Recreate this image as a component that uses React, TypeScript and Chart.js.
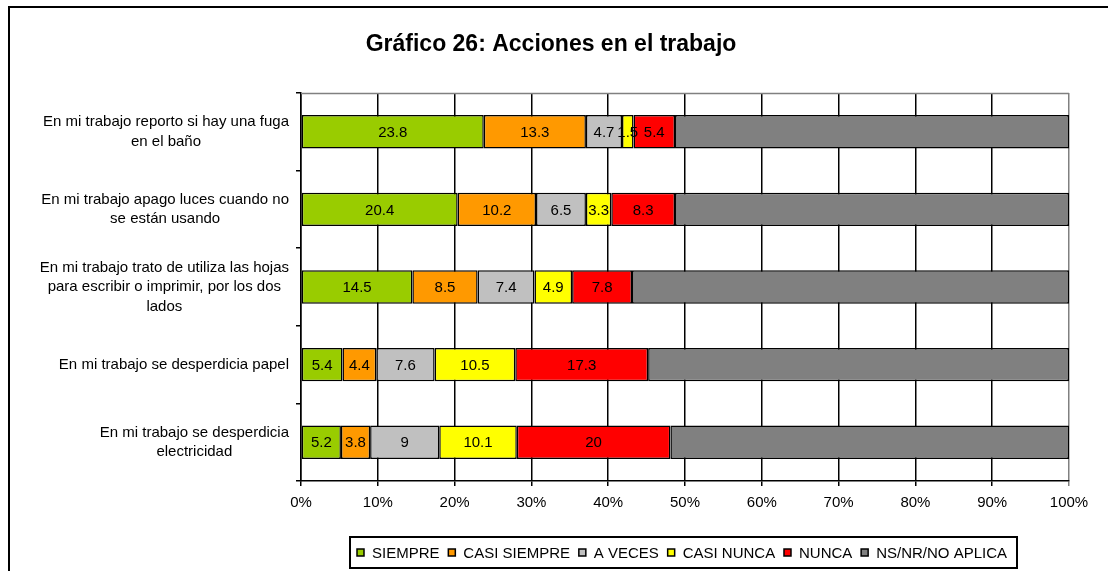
import React, { useEffect, useRef } from "react";
import { Chart, registerables } from "chart.js";

Chart.register(...registerables);

const FONT = "'Liberation Sans', Arial, sans-serif";

const TITLE = "Gráfico 26: Acciones en el trabajo";

const categories: string[][] = [
  ["En mi trabajo reporto si hay una fuga", "en el baño"],
  ["En mi trabajo apago luces cuando no", "se están usando"],
  ["En mi trabajo trato de utiliza las hojas", "para escribir o imprimir, por los dos", "lados"],
  ["En mi trabajo se desperdicia papel"],
  ["En mi trabajo se desperdicia", "electricidad"],
];

const seriesNames = ["SIEMPRE", "CASI SIEMPRE", "A VECES", "CASI NUNCA", "NUNCA", "NS/NR/NO APLICA"];
const seriesColors = ["#99CC00", "#FF9900", "#C0C0C0", "#FFFF00", "#FF0000", "#808080"];

const siempre = [23.8, 20.4, 14.5, 5.4, 5.2];
const casiSiempre = [13.3, 10.2, 8.5, 4.4, 3.8];
const aVeces = [4.7, 6.5, 7.4, 7.6, 9];
const casiNunca = [1.5, 3.3, 4.9, 10.5, 10.1];
const nunca = [5.4, 8.3, 7.8, 17.3, 20];
const nsNr = [51.3, 51.3, 56.9, 54.8, 51.9];

const seriesValues = [siempre, casiSiempre, aVeces, casiNunca, nunca, nsNr];
const labelledSeries = [true, true, true, true, true, false];

const xMin = 0;
const xMax = 100;
const xStep = 10;

const overlay = {
  id: "overlay",
  afterDraw(chart: any) {
    const ctx: CanvasRenderingContext2D = chart.ctx;
    const area = chart.chartArea;
    const yScale = chart.scales.y;
    ctx.save();

    // outer frame (top and left visible)
    ctx.strokeStyle = "#000";
    ctx.lineWidth = 2;
    ctx.beginPath();
    ctx.moveTo(9, 600);
    ctx.lineTo(9, 7);
    ctx.lineTo(1200, 7);
    ctx.stroke();

    // plot area top border (gray)
    ctx.strokeStyle = "#808080";
    ctx.lineWidth = 1.5;
    ctx.beginPath();
    ctx.moveTo(area.left, Math.round(area.top) + 0.5);
    ctx.lineTo(area.right, Math.round(area.top) + 0.5);
    ctx.stroke();

    // title
    ctx.fillStyle = "#000";
    ctx.font = `bold 23px ${FONT}`;
    ctx.textAlign = "center";
    ctx.textBaseline = "middle";
    ctx.fillText(TITLE, 551, 45);

    // category labels
    ctx.font = `15px ${FONT}`;
    const lineH = 19.5;
    categories.forEach((lines, i) => {
      const cy = yScale.getPixelForValue(i);
      let maxW = 0;
      lines.forEach((l) => (maxW = Math.max(maxW, ctx.measureText(l).width)));
      const cx = area.left - 12 - maxW / 2;
      const startY = cy - ((lines.length - 1) * lineH) / 2;
      lines.forEach((l, k) => {
        ctx.fillText(l, cx, startY + k * lineH);
      });
    });

    // data labels
    chart.data.datasets.forEach((ds: any, di: number) => {
      if (!labelledSeries[di]) return;
      const meta = chart.getDatasetMeta(di);
      meta.data.forEach((bar: any, j: number) => {
        const v = ds.data[j];
        const x = (bar.x + bar.base) / 2;
        ctx.fillStyle = "#000";
        ctx.fillText(String(v), x, bar.y + 1);
      });
    });

    // legend
    ctx.font = `15px ${FONT}`;
    ctx.textAlign = "left";
    const boxL = 350;
    const boxR = 1017;
    const boxT = 537;
    const boxB = 568;
    const marker = 7;
    const mGap = 8;
    const textWs = seriesNames.map((n) => ctx.measureText(n).width);
    const contentStart = boxL + 7;
    const contentEnd = boxR - 10;
    const used = textWs.reduce((a, b) => a + b, 0) + seriesNames.length * (marker + mGap);
    const gap = (contentEnd - contentStart - used) / (seriesNames.length - 1);
    const cyL = (boxT + boxB) / 2;
    let x = contentStart;
    seriesNames.forEach((n, i) => {
      ctx.fillStyle = seriesColors[i];
      ctx.fillRect(x, cyL - marker / 2, marker, marker);
      ctx.strokeStyle = "#000";
      ctx.lineWidth = 1.5;
      ctx.strokeRect(x, cyL - marker / 2, marker, marker);
      ctx.fillStyle = "#000";
      ctx.fillText(n, x + marker + mGap, cyL + 1);
      x += marker + mGap + textWs[i] + gap;
    });
    ctx.strokeStyle = "#000";
    ctx.lineWidth = 2;
    ctx.strokeRect(boxL, boxT, boxR - boxL, boxB - boxT);

    ctx.restore();
  },
};

export default function App() {
  const ref = useRef<HTMLCanvasElement | null>(null);

  useEffect(() => {
    if (!ref.current) return;
    const chart = new Chart(ref.current, {
      type: "bar",
      data: {
        labels: categories.map((c) => c.join(" ")),
        datasets: seriesNames.map((name, i) => ({
          label: name,
          data: seriesValues[i],
          backgroundColor: seriesColors[i],
          borderColor: "#000",
          borderWidth: 1.5,
          borderSkipped: false,
          barPercentage: 0.43,
          categoryPercentage: 1,
        })),
      },
      options: {
        indexAxis: "y",
        animation: false,
        responsive: false,
        maintainAspectRatio: false,
        layout: { padding: { top: 93, right: 39, left: 0, bottom: 0 } },
        plugins: {
          legend: { display: false },
          title: { display: false },
          tooltip: { enabled: false },
        },
        scales: {
          x: {
            stacked: true,
            min: xMin,
            max: xMax,
            ticks: {
              stepSize: xStep,
              color: "#000",
              font: { family: FONT, size: 15 },
              padding: 8,
              callback: (v: any) => `${v}%`,
            },
            grid: {
              color: (c: any) => (c.index === 10 ? "#808080" : "#000"),
              lineWidth: 1.5,
              drawTicks: true,
              tickLength: 5,
            },
            border: { display: true, color: "#000", width: 1.5 },
            afterFit: (s: any) => {
              s.height = 571 - 481;
            },
          },
          y: {
            stacked: true,
            offset: true,
            ticks: { display: false },
            grid: {
              offset: true,
              drawOnChartArea: false,
              drawTicks: true,
              tickLength: 5,
              lineWidth: 1.5,
              color: "#000",
            },
            border: { display: true, color: "#000", width: 1.5 },
            afterFit: (s: any) => {
              s.width = 301;
            },
          },
        },
      },
      plugins: [overlay],
    });
    return () => chart.destroy();
  }, []);

  return (
    <div style={{ position: "fixed", left: 0, top: 0, width: 1108, height: 571, background: "#fff" }}>
      <canvas ref={ref} width={1108} height={571} style={{ display: "block" }} />
    </div>
  );
}
